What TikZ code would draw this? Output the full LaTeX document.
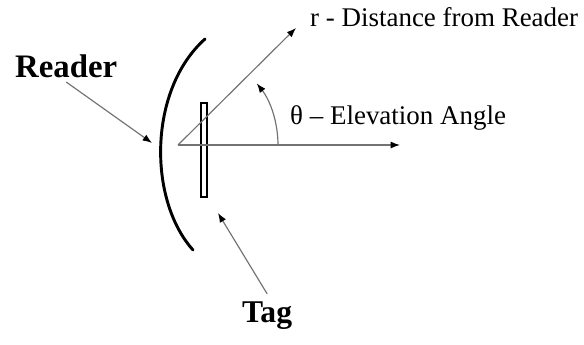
\documentclass[tikz,border=0pt]{standalone}
\usepackage{fontspec}
\setmainfont{Liberation Serif}
\usepackage{tikz}
\usetikzlibrary{arrows.meta,positioning,calc}

\begin{document}
\begin{tikzpicture}[x=0.03cm,y=0.03cm,>={Latex[length=8pt,width=6pt,black]},
  lbl/.style={inner sep=0pt,anchor=base west,font=\fontsize{23}{26}\selectfont},
  bigl/.style={inner sep=0pt,anchor=base west,font=\fontsize{28}{32}\selectfont\bfseries},
  ray/.style={->,black!55,line width=1pt}]
  \useasboundingbox (0,0) rectangle (584,345);
  \coordinate (o) at (178,200);
  \coordinate (rtip) at (296,317);
  \coordinate (xtip) at (400,200);
  \coordinate (readtip) at (152,202);
  \coordinate (tagtip) at (218,132);
  % reader antenna and tag
  \draw[line width=2.5pt,line cap=round] (205,306) .. controls (148,255) and (148,145) .. (193,95);
  \draw[line width=1.2pt] (201,148) rectangle (207,242);
  \draw[ray] (o) -- (rtip);
  \draw[ray] (o) -- (xtip);
  \draw[ray] ($(o)+(100,0)$) arc (0:38:100);
  % labels
  \node[lbl] (rlab) at (310,318) {r - Distance from Reader};
  \node[lbl] (thlab) at (290,220) {θ – Elevation Angle};
  \node[bigl] (reader) at (15,267) {Reader};
  \node[bigl,font=\fontsize{27}{30}\selectfont\bfseries] (tag) at (242,22) {Tag};
  \draw[ray] ([yshift=-3pt]reader.south) -- (readtip);
  \draw[ray] ([yshift=7pt]tag.north) -- (tagtip);
\end{tikzpicture}
\end{document}
